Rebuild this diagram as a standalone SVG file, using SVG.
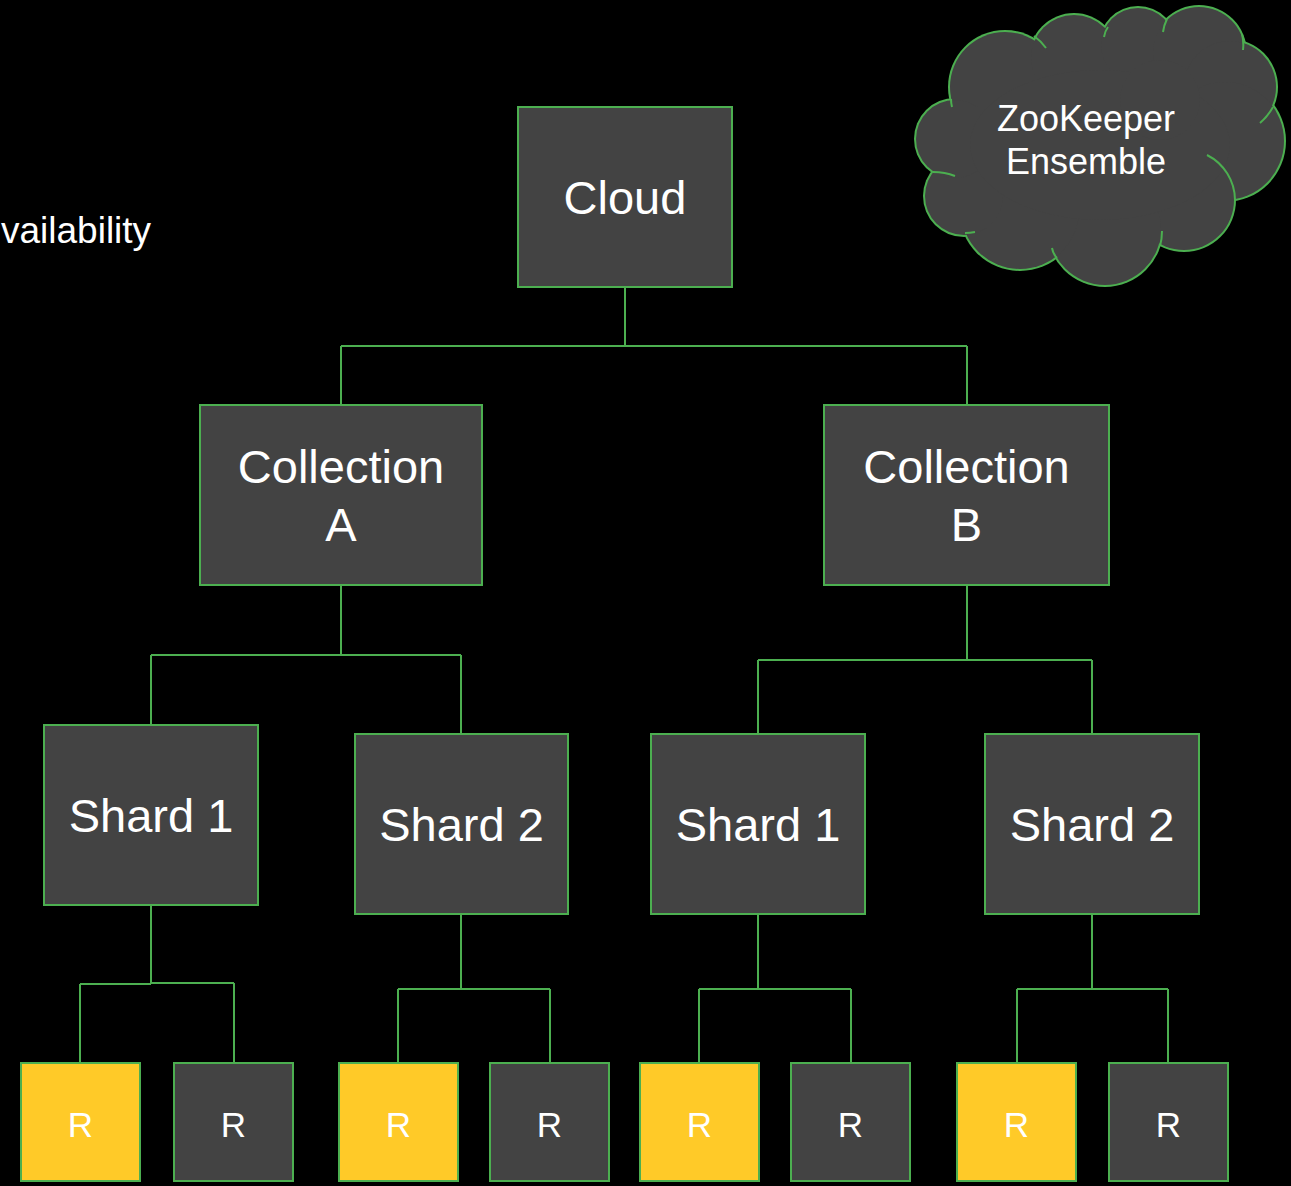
<svg xmlns="http://www.w3.org/2000/svg" width="1291" height="1186" viewBox="0 0 1291 1186">
  <style>
    .box { fill: #434343; stroke: #4CAF50; stroke-width: 2; }
    .rep { fill: #FFCA28; stroke: #4CAF50; stroke-width: 2; }
    .con { fill: none; stroke: #4CAF50; stroke-width: 2; }
    .t { font-family: "Liberation Sans", Arial, sans-serif; fill: #ffffff; text-anchor: middle; }
    .big { font-size: 47px; }
    .sm { font-size: 35px; }
    .cl { font-size: 36px; }
  </style>
  <rect x="0" y="0" width="1291" height="1186" fill="#000000"/>

  <text x="1" y="243" font-family="Liberation Sans, Arial, sans-serif" font-size="37" fill="#ffffff">vailability</text>

  <g id="connectors">
    <path class="con" d="M625,287 V346 M341,346 H967 M341,346 V405 M967,346 V405"/>
    <path class="con" d="M341,585 V655 M151,655 H461 M151,655 V725 M461,655 V734"/>
    <path class="con" d="M967,585 V660 M758,660 H1092 M758,660 V734 M1092,660 V734"/>
    <path class="con" d="M151,905 V984 M80,984 H151 M151,983 H234 M80,984 V1063 M234,983 V1063"/>
    <path class="con" d="M461,914 V989 M398,989 H550 M398,989 V1063 M550,989 V1063"/>
    <path class="con" d="M758,914 V989 M699,989 H851 M699,989 V1063 M851,989 V1063"/>
    <path class="con" d="M1092,914 V989 M1017,989 H1168 M1017,989 V1063 M1168,989 V1063"/>
  </g>

  <g id="zookeeper">
    <g fill="#4CAF50">
      <circle cx="1005" cy="87" r="57"/>
      <circle cx="1074" cy="58" r="45"/>
      <circle cx="1138" cy="45" r="39"/>
      <circle cx="1199" cy="53" r="48"/>
      <circle cx="1230" cy="87" r="48"/>
      <circle cx="1225" cy="141" r="61"/>
      <circle cx="1184" cy="200" r="52"/>
      <circle cx="1105" cy="229" r="58"/>
      <circle cx="1020" cy="210" r="61"/>
      <circle cx="964" cy="196" r="41"/>
      <circle cx="955" cy="139" r="41"/>
    </g>
    <g fill="#434343">
      <circle cx="1005" cy="87" r="55"/>
      <circle cx="1074" cy="58" r="43"/>
      <circle cx="1138" cy="45" r="37"/>
      <circle cx="1199" cy="53" r="46"/>
      <circle cx="1230" cy="87" r="46"/>
      <circle cx="1225" cy="141" r="59"/>
      <circle cx="1184" cy="200" r="50"/>
      <circle cx="1105" cy="229" r="56"/>
      <circle cx="1020" cy="210" r="59"/>
      <circle cx="964" cy="196" r="39"/>
      <circle cx="955" cy="139" r="39"/>
      <ellipse cx="1100" cy="145" rx="130" ry="75"/>
      <circle cx="1160" cy="100" r="40"/>
    </g>
    <path class="con" d="M1034,36 Q1041,41 1046,48 M1108,27 Q1105,31 1104,37 M1167,19 Q1164,25 1163,32 M1242,34 Q1244,42 1243,50 M1273,107 Q1268,116 1260,123 M1207,155 A51,51 0 0 1 1235,200 M1160,246 Q1162,239 1162,231 M1057,258 Q1053,254 1052,248 M965,233 Q970,233 975,232 M933,172 Q945,172 955,176 M951,99 Q951,103 952,107"/>
    <text class="t cl" x="1086" y="131">ZooKeeper</text>
    <text class="t cl" x="1086" y="174">Ensemble</text>
  </g>

  <g id="cloud">
    <rect class="box" x="518" y="107" width="214" height="180"/>
    <text class="t big" x="625" y="214">Cloud</text>
  </g>

  <g id="collection-a">
    <rect class="box" x="200" y="405" width="282" height="180"/>
    <text class="t big" x="341" y="483">Collection</text>
    <text class="t big" x="341" y="541">A</text>
  </g>
  <g id="collection-b">
    <rect class="box" x="824" y="405" width="285" height="180"/>
    <text class="t big" x="966.5" y="483">Collection</text>
    <text class="t big" x="966.5" y="541">B</text>
  </g>

  <g id="shard-a1">
    <rect class="box" x="44" y="725" width="214" height="180"/>
    <text class="t big" x="151" y="832">Shard 1</text>
  </g>
  <g id="shard-a2">
    <rect class="box" x="355" y="734" width="213" height="180"/>
    <text class="t big" x="461.5" y="841">Shard 2</text>
  </g>
  <g id="shard-b1">
    <rect class="box" x="651" y="734" width="214" height="180"/>
    <text class="t big" x="758" y="841">Shard 1</text>
  </g>
  <g id="shard-b2">
    <rect class="box" x="985" y="734" width="214" height="180"/>
    <text class="t big" x="1092" y="841">Shard 2</text>
  </g>

  <g id="r1"><rect class="rep" x="21" y="1063" width="119" height="118"/><text class="t sm" x="80.5" y="1137">R</text></g>
  <g id="r2"><rect class="box" x="174" y="1063" width="119" height="118"/><text class="t sm" x="233.5" y="1137">R</text></g>
  <g id="r3"><rect class="rep" x="339" y="1063" width="119" height="118"/><text class="t sm" x="398.5" y="1137">R</text></g>
  <g id="r4"><rect class="box" x="490" y="1063" width="119" height="118"/><text class="t sm" x="549.5" y="1137">R</text></g>
  <g id="r5"><rect class="rep" x="640" y="1063" width="119" height="118"/><text class="t sm" x="699.5" y="1137">R</text></g>
  <g id="r6"><rect class="box" x="791" y="1063" width="119" height="118"/><text class="t sm" x="850.5" y="1137">R</text></g>
  <g id="r7"><rect class="rep" x="957" y="1063" width="119" height="118"/><text class="t sm" x="1016.5" y="1137">R</text></g>
  <g id="r8"><rect class="box" x="1109" y="1063" width="119" height="118"/><text class="t sm" x="1168.5" y="1137">R</text></g>
</svg>
